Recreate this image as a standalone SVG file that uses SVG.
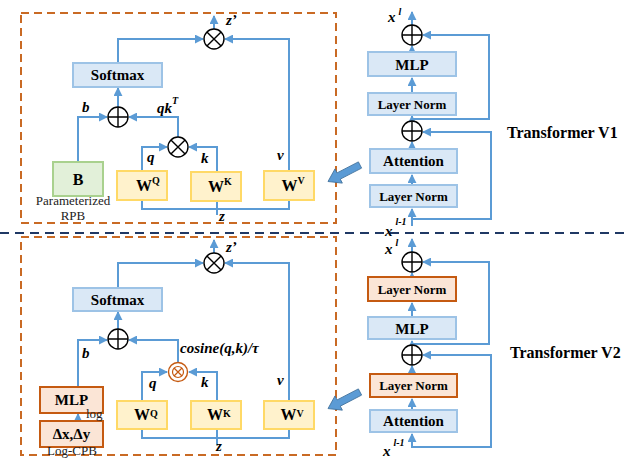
<svg xmlns="http://www.w3.org/2000/svg" width="629" height="460" viewBox="0 0 629 460">
<defs>
<marker id="ah" viewBox="0 0 10 10" refX="9" refY="5" markerWidth="9" markerHeight="9" markerUnits="userSpaceOnUse" orient="auto">
<path d="M0,0 L10,5 L0,10 z" fill="#5b9bd5"/>
</marker>
<g id="plus"><circle r="10" fill="#fff" stroke="#000" stroke-width="1.4"/><path d="M-10,0 H10 M0,-10 V10" stroke="#000" stroke-width="1.4"/></g>
<g id="times"><circle r="10" fill="#fff" stroke="#000" stroke-width="1.4"/><path d="M-7.07,-7.07 L7.07,7.07 M-7.07,7.07 L7.07,-7.07" stroke="#000" stroke-width="1.4"/></g>
<g id="bigarrow"><path d="M0,-3.5 H24 V-8 L36,0 L24,8 V3.5 H0 z" fill="#5b9bd5" stroke="#41719c" stroke-width="0.8"/></g>
</defs>
<style>
.panel{fill:none;stroke:#c96a24;stroke-width:2;stroke-dasharray:8 5}
.sep{stroke:#1f3864;stroke-width:2;stroke-dasharray:9 6}
.blue{fill:#dae8f6;stroke:#9dc3e6;stroke-width:2}
.org{fill:#fbe5d6;stroke:#c55a11;stroke-width:2}
.yel{fill:#fff2cc;stroke:#ffd966;stroke-width:2}
.grn{fill:#e2f0d9;stroke:#a9d18e;stroke-width:2}
.c{fill:none;stroke:#5b9bd5;stroke-width:2}
.a{fill:none;stroke:#5b9bd5;stroke-width:2;marker-end:url(#ah)}
.t{font-family:"Liberation Serif","Times New Roman",serif;font-weight:bold;fill:#000;text-anchor:middle}
.ttl{font-family:"Liberation Serif","Times New Roman",serif;font-weight:bold;fill:#000;font-size:16px}
.lb{font-family:"Liberation Serif","Times New Roman",serif;font-weight:bold;font-style:italic;fill:#000}
.rg{font-family:"Liberation Serif","Times New Roman",serif;fill:#222;font-size:13px}
</style>
<rect width="629" height="460" fill="#fff"/>

<!-- panels -->
<rect class="panel" x="21" y="13" width="315" height="210"/>
<rect class="panel" x="21" y="237" width="315" height="218"/>
<line class="sep" x1="0" y1="233" x2="629" y2="233"/>

<!-- connectors -->
<g id="connectors">
<!-- V1 attention -->
<path class="a" d="M118,63 V39 H203"/>
<path class="a" d="M289,171 V39 H225"/>
<path class="a" d="M214,29 V16"/>
<path class="a" d="M118,107 V88"/>
<path class="a" d="M78,162 V117 H107"/>
<path class="a" d="M178,137 V117 H129"/>
<path class="a" d="M142,171 V147 H167"/>
<path class="a" d="M217,172 V147 H189"/>
<path class="c" d="M142,200 V209 H289 V200 M217,201 V215"/>
<!-- V1 transformer -->
<path class="a" d="M412,226 V209"/>
<path class="a" d="M412,185 V175"/>
<path class="a" d="M412,149 V142"/>
<path class="a" d="M412,121 V116"/>
<path class="a" d="M412,93 V78"/>
<path class="a" d="M412,52 V46"/>
<path class="a" d="M412,25 V12"/>
<path class="a" d="M412,119 H489 V35 H423"/>
<path class="a" d="M412,219 H491 V132 H423"/>
<!-- V2 attention -->
<path class="a" d="M118,288 V263 H203"/>
<path class="a" d="M289,401 V263 H225"/>
<path class="a" d="M214,253 V240"/>
<path class="a" d="M118,329 V312"/>
<path class="a" d="M78,387 V340 H107"/>
<path class="a" d="M178,362 V340 H129"/>
<path class="a" d="M142,401 V372 H167"/>
<path class="a" d="M217,401 V372 H189"/>
<path class="c" d="M142,429 V438 H289 V429 M217,429 V445"/>
<path class="a" d="M78,421 V414"/>
<!-- V2 transformer -->
<path class="a" d="M412,448 V434"/>
<path class="a" d="M412,410 V399"/>
<path class="a" d="M412,374 V366"/>
<path class="a" d="M412,345 V341"/>
<path class="a" d="M412,317 V303"/>
<path class="a" d="M412,277 V273"/>
<path class="a" d="M412,252 V239"/>
<path class="a" d="M412,344 H489 V262 H423"/>
<path class="a" d="M412,447 H491 V355 H423"/>
</g>

<!-- V1 attention nodes -->
<g id="v1-softmax"><rect class="blue" x="73" y="63" width="89" height="24"/><text class="t" x="117.5" y="80" font-size="15">Softmax</text></g>
<g id="v1-plus"><use href="#plus" x="118" y="117"/></g>
<g id="v1-times-top"><use href="#times" x="214" y="39"/></g>
<g id="v1-times-mid"><use href="#times" x="178" y="147"/></g>
<g id="v1-B"><rect class="grn" x="53" y="162" width="50" height="34"/><text class="t" x="78" y="185" font-size="16">B</text></g>
<g id="v1-WQ"><rect class="yel" x="117" y="171" width="50" height="29"/><text class="t" x="148" y="191" font-size="16">W<tspan font-size="10" dy="-7">Q</tspan></text></g>
<g id="v1-WK"><rect class="yel" x="191" y="172" width="50" height="29"/><text class="t" x="220" y="192" font-size="16">W<tspan font-size="10" dy="-7">K</tspan></text></g>
<g id="v1-WV"><rect class="yel" x="264" y="171" width="50" height="29"/><text class="t" x="293" y="191" font-size="16">W<tspan font-size="10" dy="-7">V</tspan></text></g>
<text class="rg" x="73" y="205" text-anchor="middle">Parameterized</text>
<text class="rg" x="73" y="220" text-anchor="middle">RPB</text>
<text class="lb" x="226" y="25" font-size="15">z’</text>
<text class="lb" x="82" y="112" font-size="15">b</text>
<text class="lb" x="157" y="113" font-size="15">qk<tspan font-size="10" dy="-9">T</tspan></text>
<text class="lb" x="147" y="162" font-size="15">q</text>
<text class="lb" x="201" y="163" font-size="15">k</text>
<text class="lb" x="277" y="160" font-size="15">v</text>
<text class="lb" x="219" y="221" font-size="15">z</text>

<!-- V1 transformer nodes -->
<g id="v1-plus-top"><use href="#plus" x="412" y="35"/></g>
<g id="v1-mlp"><rect class="blue" x="368" y="52" width="88" height="24"/><text class="t" x="412" y="69.5" font-size="15">MLP</text></g>
<g id="v1-ln2"><rect class="blue" x="368" y="93" width="88" height="22"/><text class="t" x="412" y="108.5" font-size="13">Layer Norm</text></g>
<g id="v1-plus-mid"><use href="#plus" x="412" y="131"/></g>
<g id="v1-attn"><rect class="blue" x="370" y="149" width="87" height="24"/><text class="t" x="413.5" y="166" font-size="15">Attention</text></g>
<g id="v1-ln1"><rect class="blue" x="370" y="185" width="87" height="22"/><text class="t" x="413.5" y="200.5" font-size="13">Layer Norm</text></g>
<text class="lb" x="388" y="22" font-size="15">x<tspan font-size="10" dx="3" dy="-7">l</tspan></text>
<text class="lb" x="385" y="236" font-size="15">x<tspan font-size="10" dx="3" dy="-11">l-1</tspan></text>
<text class="ttl" x="507" y="138">Transformer V1</text>

<!-- big arrows -->
<use href="#bigarrow" transform="translate(360,165) rotate(152.7)"/>
<use href="#bigarrow" transform="translate(360,392) rotate(152.6)"/>

<!-- V2 attention nodes -->
<g id="v2-softmax"><rect class="blue" x="73" y="288" width="89" height="23"/><text class="t" x="117.5" y="304.5" font-size="15">Softmax</text></g>
<g id="v2-plus"><use href="#plus" x="118" y="339"/></g>
<g id="v2-times-top"><use href="#times" x="214" y="263"/></g>
<g id="v2-times-mid"><circle cx="178" cy="372" r="9.5" fill="#fff" stroke="#c55a11" stroke-width="1.4"/><circle cx="178" cy="372" r="5.5" fill="none" stroke="#c55a11" stroke-width="1.2"/><path d="M174,368 L182,376 M174,376 L182,368" stroke="#c55a11" stroke-width="1.2"/></g>
<g id="v2-mlp-cpb"><rect class="org" x="40" y="387" width="63" height="26"/><text class="t" x="71.5" y="405" font-size="15">MLP</text></g>
<g id="v2-dxdy"><rect class="org" x="40" y="421" width="63" height="26"/><text class="t" x="71.5" y="439" font-size="15">Δx,Δy</text></g>
<g id="v2-WQ"><rect class="yel" x="117" y="401" width="50" height="28"/><text class="t" x="146" y="420" font-size="16">W<tspan font-size="10" dy="-3">Q</tspan></text></g>
<g id="v2-WK"><rect class="yel" x="191" y="401" width="50" height="28"/><text class="t" x="219" y="420" font-size="16">W<tspan font-size="10" dy="-3">K</tspan></text></g>
<g id="v2-WV"><rect class="yel" x="264" y="401" width="50" height="28"/><text class="t" x="292" y="420" font-size="16">W<tspan font-size="10" dy="-3">V</tspan></text></g>
<text class="rg" x="86" y="418">log</text>
<text class="rg" x="72" y="455" text-anchor="middle">Log-CPB</text>
<text class="lb" x="226" y="252" font-size="15">z’</text>
<text class="lb" x="82" y="358" font-size="15">b</text>
<text class="lb" x="180" y="353" font-size="15">cosine(q,k)/τ</text>
<text class="lb" x="149" y="388" font-size="15">q</text>
<text class="lb" x="201" y="387" font-size="15">k</text>
<text class="lb" x="277" y="385" font-size="15">v</text>
<text class="lb" x="216" y="451" font-size="15">z</text>

<!-- V2 transformer nodes -->
<g id="v2-plus-top"><use href="#plus" x="412" y="262"/></g>
<g id="v2-ln2"><rect class="org" x="368" y="277" width="88" height="24"/><text class="t" x="412" y="293.5" font-size="13">Layer Norm</text></g>
<g id="v2-mlp"><rect class="blue" x="368" y="317" width="88" height="22"/><text class="t" x="412" y="333.5" font-size="15">MLP</text></g>
<g id="v2-plus-mid"><use href="#plus" x="412" y="355"/></g>
<g id="v2-ln1"><rect class="org" x="370" y="374" width="87" height="23"/><text class="t" x="413.5" y="390" font-size="13">Layer Norm</text></g>
<g id="v2-attn"><rect class="blue" x="370" y="410" width="87" height="22"/><text class="t" x="413.5" y="426" font-size="15">Attention</text></g>
<text class="lb" x="385" y="254" font-size="15">x<tspan font-size="10" dx="3" dy="-8">l</tspan></text>
<text class="lb" x="383" y="456" font-size="15">x<tspan font-size="10" dx="3" dy="-10">l-1</tspan></text>
<text class="ttl" x="510" y="358">Transformer V2</text>
</svg>
